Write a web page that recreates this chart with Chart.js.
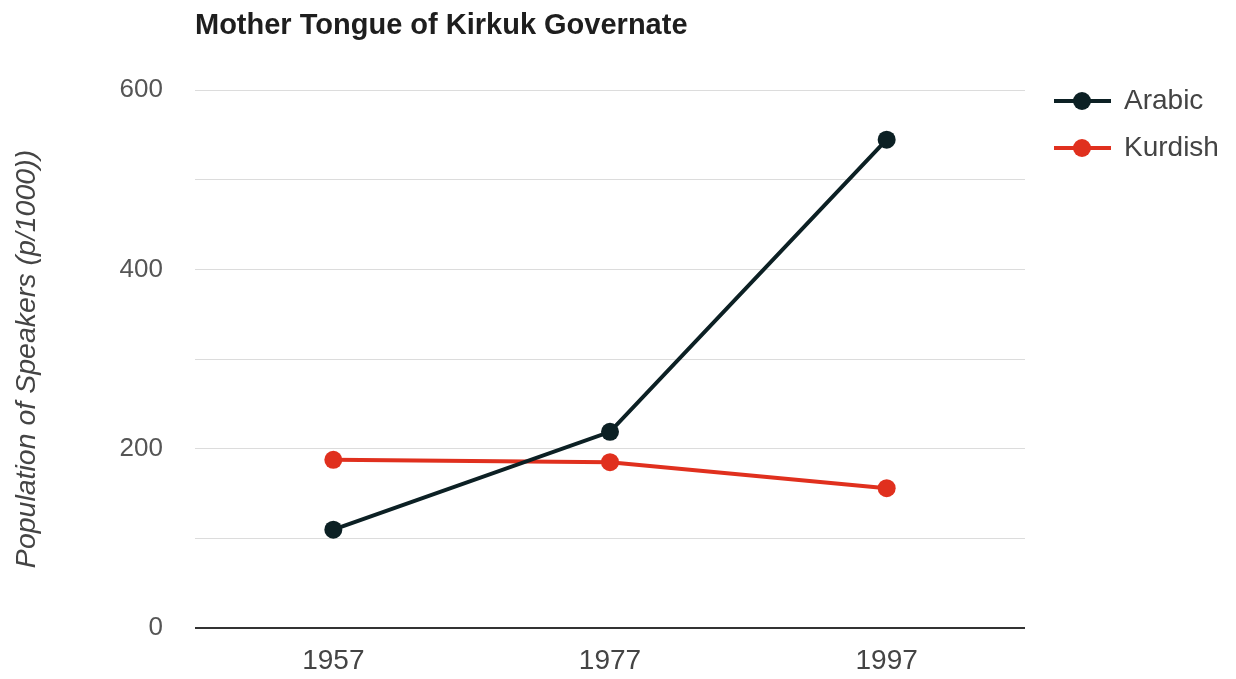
<!DOCTYPE html>
<html>
<head>
<meta charset="utf-8">
<script src="https://cdn.jsdelivr.net/npm/chart.js@4"></script>
<style>
html,body{margin:0;padding:0;background:#fff;}
#wrap{width:1236px;height:679px;position:relative;}
</style>
</head>
<body>
<div id="wrap"><canvas id="c" width="1236" height="679"></canvas></div>
<script>
const categories = ['1957', '1977', '1997'];
const arabic = [109.6, 218.8, 544.6];
const kurdish = [187.6, 184.9, 155.9];
const seriesNames = ['Arabic', 'Kurdish'];
const yTickLabels = [0, 200, 400, 600];
const chartTitle = 'Mother Tongue of Kirkuk Governate';
const yAxisTitle = 'Population of Speakers (p/1000))';

const colors = ['#0c2024', '#e0301e'];
const sans = '"Liberation Sans", Arial, sans-serif';

const overlay = {
  id: 'overlay',
  afterDraw(chart) {
    const ctx = chart.ctx;
    const a = chart.chartArea;
    ctx.save();
    // title
    ctx.font = 'bold 29px ' + sans;
    ctx.fillStyle = '#1e1e1e';
    ctx.textAlign = 'left';
    ctx.textBaseline = 'alphabetic';
    ctx.fillText(chartTitle, a.left, 34);
    // legend
    chart.data.datasets.forEach((ds, i) => {
      const y = 101 + i * 47;
      const x0 = a.right + 29;
      ctx.strokeStyle = ds.borderColor;
      ctx.lineWidth = 4;
      ctx.beginPath();
      ctx.moveTo(x0, y);
      ctx.lineTo(x0 + 57, y);
      ctx.stroke();
      ctx.fillStyle = ds.borderColor;
      ctx.beginPath();
      ctx.arc(x0 + 28, y, 9, 0, Math.PI * 2);
      ctx.fill();
      ctx.font = '28px ' + sans;
      ctx.fillStyle = '#444';
      ctx.textAlign = 'left';
      ctx.textBaseline = 'middle';
      ctx.fillText(ds.label, x0 + 70, y);
    });
    ctx.restore();
  }
};

new Chart(document.getElementById('c'), {
  type: 'line',
  data: {
    labels: categories,
    datasets: [
      { label: seriesNames[0], data: arabic, borderColor: colors[0], backgroundColor: colors[0],
        borderWidth: 4, pointRadius: 9, pointHoverRadius: 9, pointBorderWidth: 0, tension: 0 },
      { label: seriesNames[1], data: kurdish, borderColor: colors[1], backgroundColor: colors[1],
        borderWidth: 4, pointRadius: 9, pointHoverRadius: 9, pointBorderWidth: 0, tension: 0 }
    ]
  },
  options: {
    responsive: false,
    animation: false,
    events: [],
    layout: { padding: { top: 90, right: 211, left: 0, bottom: 0 } },
    plugins: { legend: { display: false }, title: { display: false }, tooltip: { enabled: false } },
    scales: {
      x: {
        offset: true,
        grid: { display: false, drawTicks: false },
        border: { display: false },
        ticks: { color: '#444', font: { size: 28, family: sans }, padding: 16 },
        afterFit(scale) { scale.height = 51; }
      },
      y: {
        min: 0, max: 600,
        afterBuildTicks(scale) {
          scale.ticks = [0, 100, 200, 300, 400, 500, 600].map(v => ({ value: v }));
        },
        ticks: {
          color: '#555',
          font: { size: 26, family: sans },
          padding: 32,
          callback(v) { return yTickLabels.includes(v) ? String(v) : ''; }
        },
        grid: {
          drawTicks: false,
          color(ctx) { return ctx.tick && ctx.tick.value === 0 ? '#333' : '#dcdcdc'; },
          lineWidth(ctx) { return ctx.tick && ctx.tick.value === 0 ? 2 : 1; }
        },
        border: { display: false },
        title: {
          display: true, text: yAxisTitle, color: '#444',
          font: { size: 28.5, style: 'italic', family: sans },
          padding: { top: 10, bottom: 0 }
        },
        afterFit(scale) { scale.width = 195; }
      }
    }
  },
  plugins: [overlay]
});
</script>
</body>
</html>
